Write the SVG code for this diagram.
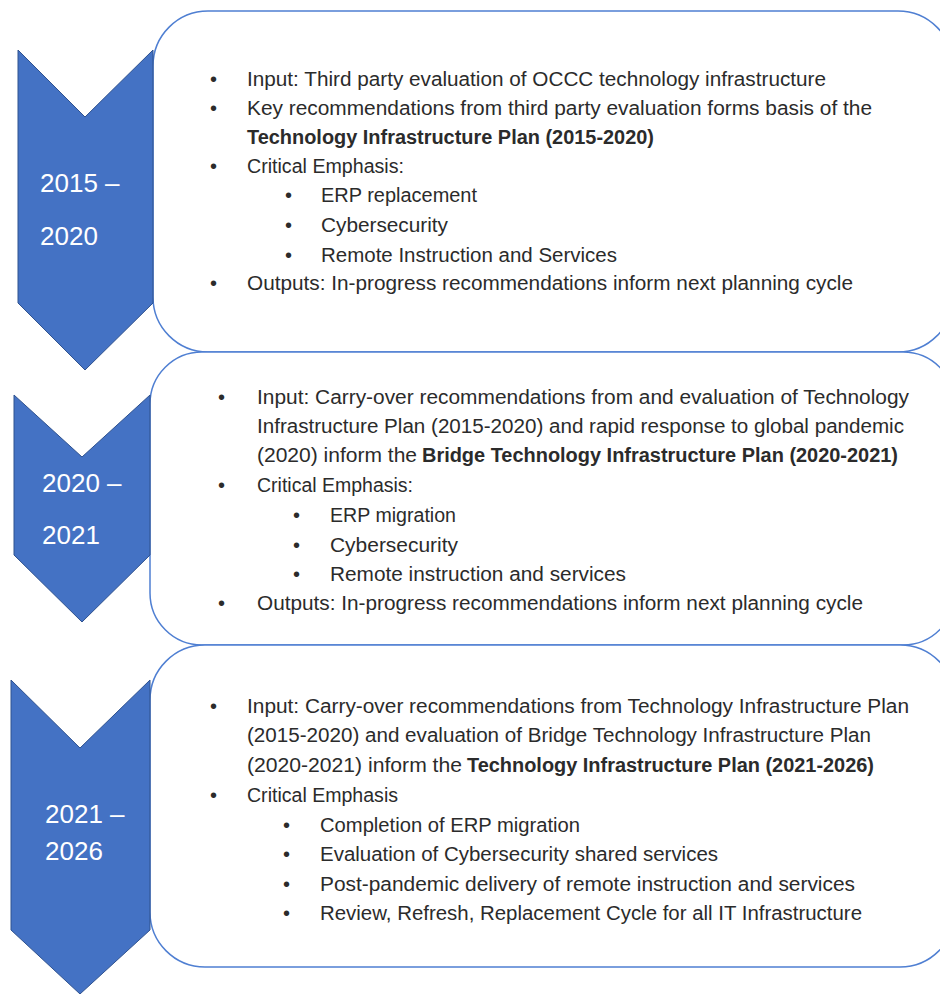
<svg xmlns="http://www.w3.org/2000/svg" width="940" height="994" viewBox="0 0 940 994">
<style>
.chev{fill:#4472C4;stroke:#2F528F;stroke-width:1}
.box{fill:#ffffff;stroke:#4F7FD2;stroke-width:1.5}
.yr{font-family:"Liberation Sans",Arial,sans-serif;font-size:26px;fill:#ffffff}
.t{font-family:"Liberation Sans",Arial,sans-serif;font-size:20px;fill:#2b2b2b}
.b{font-weight:bold}
</style>
<rect width="940" height="994" fill="#ffffff"/>
<g id="box1"><rect class="box" x="153" y="11" width="800" height="341" rx="55" ry="55"/></g>
<g id="box2"><rect class="box" x="150" y="352" width="805" height="293" rx="52" ry="52"/></g>
<g id="box3"><rect class="box" x="150" y="645" width="805" height="322" rx="55" ry="55"/></g>

<g id="chevron1">
<polygon class="chev" points="18,50 85,117 153,50 153,303 85,370 18,303"/>
<text class="yr" x="40" y="192">2015 –</text>
<text class="yr" x="40" y="245">2020</text>
</g>
<g id="chevron2">
<polygon class="chev" points="14,395 82,457 150,395 150,555 82,622 14,555"/>
<text class="yr" x="42" y="492">2020 –</text>
<text class="yr" x="42" y="544">2021</text>
</g>
<g id="chevron3">
<polygon class="chev" points="11,680 80,748 150,680 150,930 80,994 11,930"/>
<text class="yr" x="45" y="823">2021 –</text>
<text class="yr" x="45" y="860">2026</text>
</g>

<g id="text1" class="t" xml:space="preserve">
<text class="t" x="210" y="86">•</text>
<text class="t" x="247" y="86" textLength="579" lengthAdjust="spacingAndGlyphs">Input: Third party evaluation of OCCC technology infrastructure</text>
<text class="t" x="210" y="115">•</text>
<text class="t" x="247" y="115" textLength="625" lengthAdjust="spacingAndGlyphs">Key recommendations from third party evaluation forms basis of the</text>
<text class="t b" x="247" y="144" textLength="407" lengthAdjust="spacingAndGlyphs">Technology  Infrastructure Plan (2015-2020)</text>
<text class="t" x="210" y="173">•</text>
<text class="t" x="247" y="173" textLength="157" lengthAdjust="spacingAndGlyphs">Critical Emphasis:</text>
<text class="t" x="285" y="202">•</text>
<text class="t" x="321" y="202" textLength="156" lengthAdjust="spacingAndGlyphs">ERP replacement</text>
<text class="t" x="285" y="232">•</text>
<text class="t" x="321" y="232" textLength="127" lengthAdjust="spacingAndGlyphs">Cybersecurity</text>
<text class="t" x="285" y="262">•</text>
<text class="t" x="321" y="262" textLength="296" lengthAdjust="spacingAndGlyphs">Remote Instruction and Services</text>
<text class="t" x="210" y="290">•</text>
<text class="t" x="247" y="290" textLength="606" lengthAdjust="spacingAndGlyphs">Outputs:  In-progress recommendations inform next planning cycle</text>
</g>

<g id="text2" class="t" xml:space="preserve">
<text class="t" x="218" y="404">•</text>
<text class="t" x="257" y="404" textLength="652" lengthAdjust="spacingAndGlyphs">Input: Carry-over recommendations from and evaluation of Technology</text>
<text class="t" x="257" y="433" textLength="647" lengthAdjust="spacingAndGlyphs">Infrastructure Plan (2015-2020) and rapid response to global pandemic</text>
<text class="t" x="257" y="462" textLength="160" lengthAdjust="spacingAndGlyphs">(2020) inform the</text>
<text class="t b" x="422" y="462" textLength="476" lengthAdjust="spacingAndGlyphs">Bridge Technology Infrastructure Plan (2020-2021)</text>
<text class="t" x="218" y="492">•</text>
<text class="t" x="257" y="492" textLength="156" lengthAdjust="spacingAndGlyphs">Critical Emphasis:</text>
<text class="t" x="293" y="522">•</text>
<text class="t" x="330" y="522" textLength="126" lengthAdjust="spacingAndGlyphs">ERP migration</text>
<text class="t" x="293" y="552">•</text>
<text class="t" x="330" y="552" textLength="128" lengthAdjust="spacingAndGlyphs">Cybersecurity</text>
<text class="t" x="293" y="581">•</text>
<text class="t" x="330" y="581" textLength="296" lengthAdjust="spacingAndGlyphs">Remote instruction and services</text>
<text class="t" x="218" y="610">•</text>
<text class="t" x="257" y="610" textLength="606" lengthAdjust="spacingAndGlyphs">Outputs:  In-progress recommendations inform next planning cycle</text>
</g>

<g id="text3" class="t" xml:space="preserve">
<text class="t" x="210" y="713">•</text>
<text class="t" x="247" y="713" textLength="662" lengthAdjust="spacingAndGlyphs">Input: Carry-over recommendations from Technology Infrastructure Plan</text>
<text class="t" x="247" y="742" textLength="624" lengthAdjust="spacingAndGlyphs">(2015-2020) and evaluation of Bridge Technology Infrastructure Plan</text>
<text class="t" x="247" y="772" textLength="215" lengthAdjust="spacingAndGlyphs">(2020-2021) inform the</text>
<text class="t b" x="467" y="772" textLength="407" lengthAdjust="spacingAndGlyphs">Technology  Infrastructure Plan (2021-2026)</text>
<text class="t" x="210" y="802">•</text>
<text class="t" x="247" y="802" textLength="151" lengthAdjust="spacingAndGlyphs">Critical Emphasis</text>
<text class="t" x="283" y="832">•</text>
<text class="t" x="320" y="832" textLength="260" lengthAdjust="spacingAndGlyphs">Completion of ERP migration</text>
<text class="t" x="283" y="861">•</text>
<text class="t" x="320" y="861" textLength="398" lengthAdjust="spacingAndGlyphs">Evaluation  of Cybersecurity shared services</text>
<text class="t" x="283" y="891">•</text>
<text class="t" x="320" y="891" textLength="535" lengthAdjust="spacingAndGlyphs">Post-pandemic delivery of remote instruction and services</text>
<text class="t" x="283" y="920">•</text>
<text class="t" x="320" y="920" textLength="542" lengthAdjust="spacingAndGlyphs">Review, Refresh, Replacement Cycle for all IT Infrastructure</text>
</g>
</svg>
